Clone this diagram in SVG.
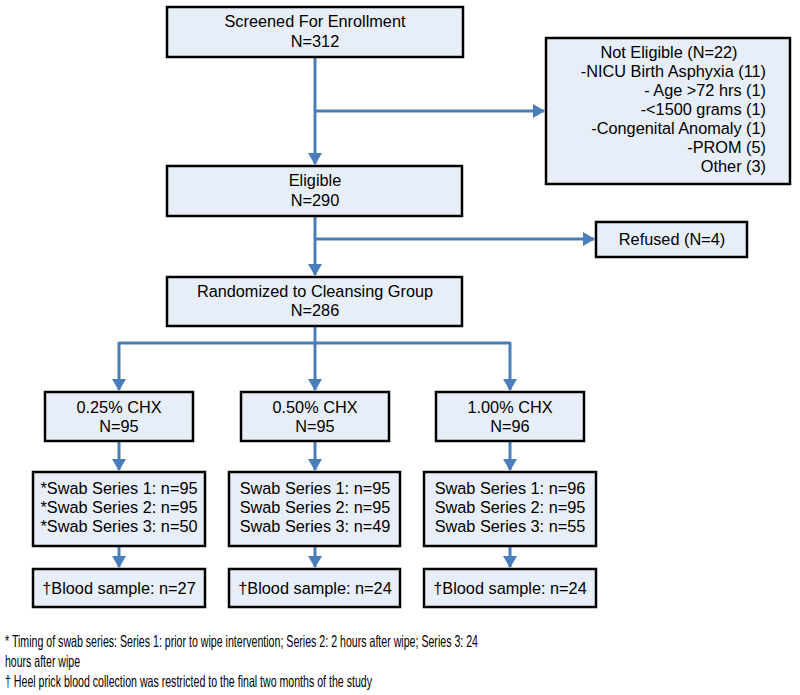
<svg xmlns="http://www.w3.org/2000/svg" width="800" height="695" viewBox="0 0 800 695">
<defs>
<marker id="ah" markerWidth="14" markerHeight="14" refX="11" refY="7" orient="auto" markerUnits="userSpaceOnUse">
<path d="M0,0 L12,7 L0,14 Z" fill="#4A7EBB"/>
</marker>
<style>
.box{fill:#E8EEF7;stroke:#000;stroke-width:2.5}
.t{font-family:"Liberation Sans",Arial,sans-serif;font-size:16.3px;fill:#000;text-anchor:middle}
.r{text-anchor:end}
.c{fill:none;stroke:#4A7EBB;stroke-width:3}
.f{font-family:"Liberation Sans Narrow","Liberation Sans",Arial,sans-serif;font-size:16.5px;fill:#000}
</style>
</defs>
<rect width="800" height="695" fill="#fff"/>
<g id="connectors">
<path class="c" d="M315,57 V164" marker-end="url(#ah)"/>
<path class="c" d="M315,111 H544" marker-end="url(#ah)"/>
<path class="c" d="M315,216 V275" marker-end="url(#ah)"/>
<path class="c" d="M315,239 H594" marker-end="url(#ah)"/>
<path class="c" d="M315,326 V390" marker-end="url(#ah)"/>
<path class="c" d="M119,343 H510"/>
<path class="c" d="M119,342 V390" marker-end="url(#ah)"/>
<path class="c" d="M510,342 V390" marker-end="url(#ah)"/>
<path class="c" d="M119,441 V470" marker-end="url(#ah)"/>
<path class="c" d="M315,441 V470" marker-end="url(#ah)"/>
<path class="c" d="M510,441 V470" marker-end="url(#ah)"/>
<path class="c" d="M119,546 V567" marker-end="url(#ah)"/>
<path class="c" d="M315,546 V567" marker-end="url(#ah)"/>
<path class="c" d="M510,546 V567" marker-end="url(#ah)"/>
</g>
<g id="screened">
<rect class="box" x="167" y="7" width="296" height="50"/>
<text class="t" x="315" y="27">Screened For Enrollment</text>
<text class="t" x="315" y="47">N=312</text>
</g>
<g id="noteligible">
<rect class="box" x="546" y="38" width="244" height="146"/>
<text class="t" x="669" y="58">Not Eligible (N=22)</text>
<text class="t r" x="766" y="77">-NICU Birth Asphyxia (11)</text>
<text class="t r" x="766" y="96">- Age &gt;72 hrs (1)</text>
<text class="t r" x="766" y="115">-&lt;1500 grams (1)</text>
<text class="t r" x="766" y="134">-Congenital Anomaly (1)</text>
<text class="t r" x="766" y="153">-PROM (5)</text>
<text class="t r" x="766" y="172">Other (3)</text>
</g>
<g id="eligible">
<rect class="box" x="167" y="166" width="295" height="50"/>
<text class="t" x="315" y="186">Eligible</text>
<text class="t" x="315" y="206">N=290</text>
</g>
<g id="refused">
<rect class="box" x="596" y="222" width="151" height="35"/>
<text class="t" x="672" y="245">Refused (N=4)</text>
</g>
<g id="randomized">
<rect class="box" x="167" y="277" width="295" height="49"/>
<text class="t" x="315" y="297">Randomized to Cleansing Group</text>
<text class="t" x="315" y="316">N=286</text>
</g>
<g id="chx025">
<rect class="box" x="45" y="392" width="148" height="49"/>
<text class="t" x="119" y="413">0.25% CHX</text>
<text class="t" x="119" y="432">N=95</text>
</g>
<g id="chx050">
<rect class="box" x="241" y="392" width="148" height="49"/>
<text class="t" x="315" y="413">0.50% CHX</text>
<text class="t" x="315" y="432">N=95</text>
</g>
<g id="chx100">
<rect class="box" x="436" y="392" width="148" height="49"/>
<text class="t" x="510" y="413">1.00% CHX</text>
<text class="t" x="510" y="432">N=96</text>
</g>
<g id="swab025">
<rect class="box" x="33" y="472" width="172" height="74"/>
<text class="t" x="119" y="494">*Swab Series 1: n=95</text>
<text class="t" x="119" y="513">*Swab Series 2: n=95</text>
<text class="t" x="119" y="532">*Swab Series 3: n=50</text>
</g>
<g id="swab050">
<rect class="box" x="229" y="472" width="171" height="74"/>
<text class="t" x="315" y="494">Swab Series 1: n=95</text>
<text class="t" x="315" y="513">Swab Series 2: n=95</text>
<text class="t" x="315" y="532">Swab Series 3: n=49</text>
</g>
<g id="swab100">
<rect class="box" x="424" y="472" width="172" height="74"/>
<text class="t" x="510" y="494">Swab Series 1: n=96</text>
<text class="t" x="510" y="513">Swab Series 2: n=95</text>
<text class="t" x="510" y="532">Swab Series 3: n=55</text>
</g>
<g id="blood025">
<rect class="box" x="33" y="569" width="172" height="38"/>
<text class="t" x="119" y="594">†Blood sample: n=27</text>
</g>
<g id="blood050">
<rect class="box" x="229" y="569" width="171" height="38"/>
<text class="t" x="315" y="594">†Blood sample: n=24</text>
</g>
<g id="blood100">
<rect class="box" x="424" y="569" width="172" height="38"/>
<text class="t" x="510" y="594">†Blood sample: n=24</text>
</g>
<g id="footnotes">
<text class="f" x="5" y="647" textLength="473" lengthAdjust="spacingAndGlyphs">* Timing of swab series: Series 1: prior to wipe intervention; Series 2: 2 hours after wipe; Series 3: 24</text>
<text class="f" x="5" y="667" textLength="75" lengthAdjust="spacingAndGlyphs">hours after wipe</text>
<text class="f" x="5" y="687" textLength="367" lengthAdjust="spacingAndGlyphs">† Heel prick blood collection was restricted to the final two months of the study</text>
</g>
</svg>
